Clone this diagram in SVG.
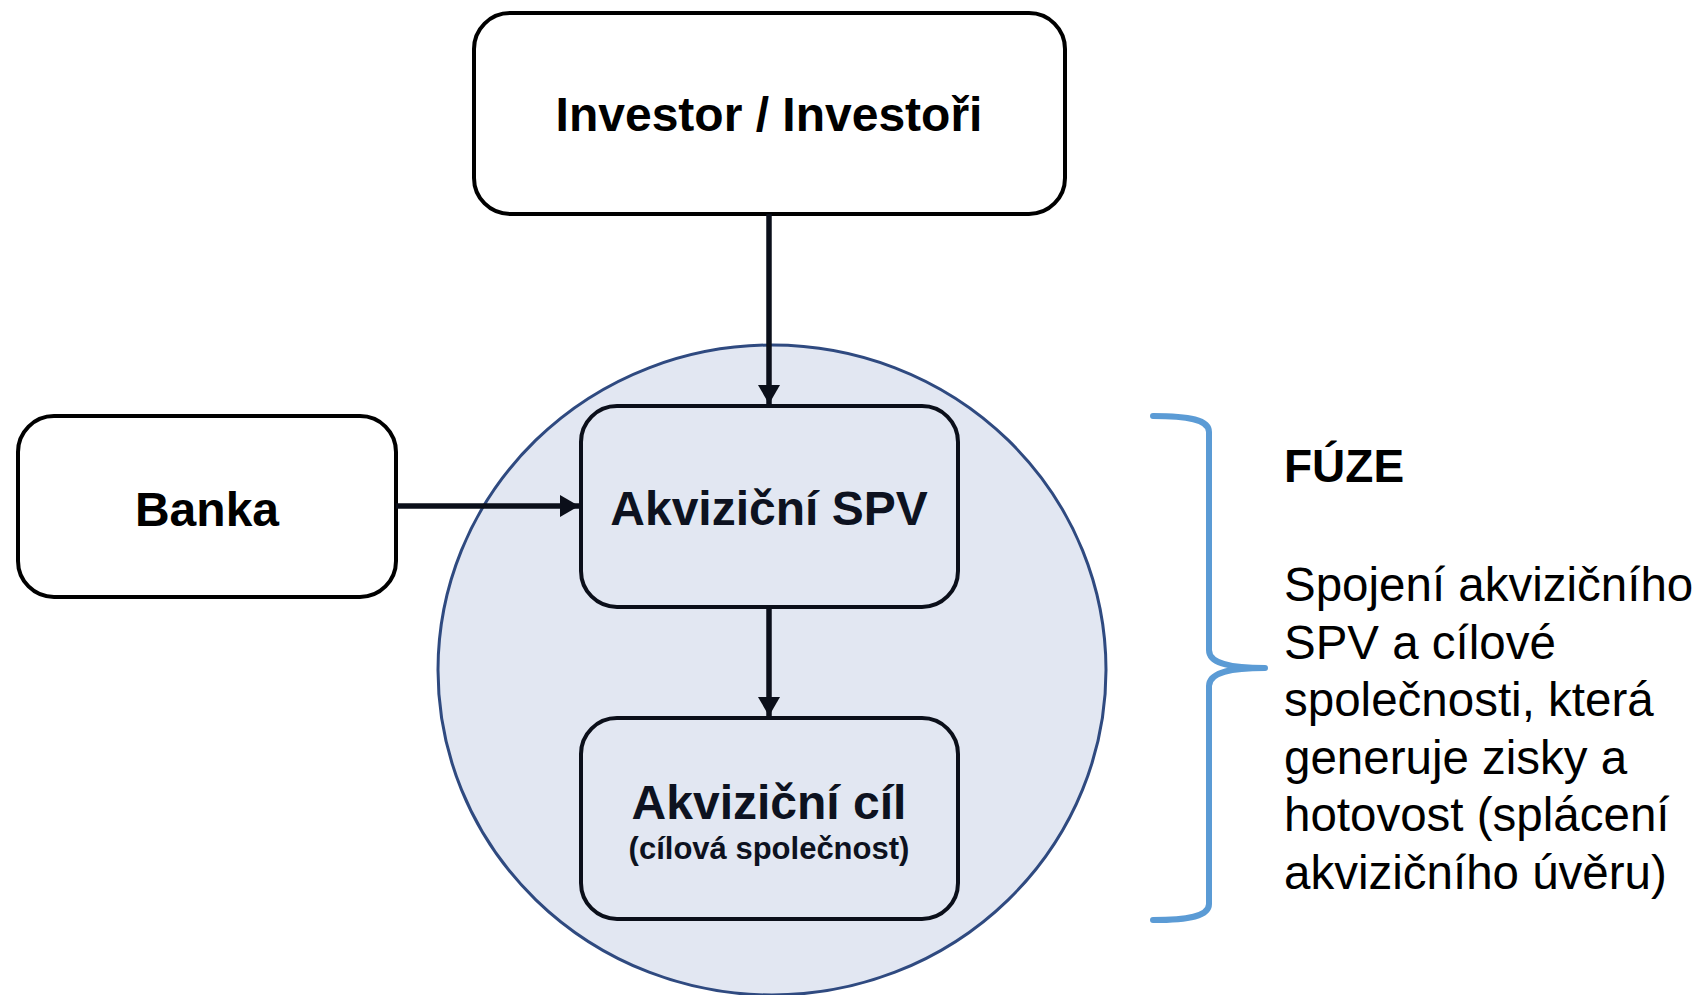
<svg xmlns="http://www.w3.org/2000/svg" width="1702" height="995" viewBox="0 0 1702 995">
<defs>
<style>
.box{fill:#fff;stroke:#000;stroke-width:4}
.ibox{fill:#E2E7F2;stroke:#0B0F1A;stroke-width:4}
.lbl{font-family:"Liberation Sans",Arial,sans-serif;font-weight:bold;text-anchor:middle}
.conn{stroke:#0B0F1A;stroke-width:5.5;fill:none}
.para{font-family:"Liberation Sans",Arial,sans-serif;font-size:47.5px;fill:#000}
</style>
<marker id="ah" markerUnits="userSpaceOnUse" markerWidth="20" markerHeight="22" viewBox="0 0 19 22" refX="19" refY="11" orient="auto">
<path d="M0,0 L19,11 L0,22 Z" fill="#0B0F1A"/>
</marker>
</defs>
<rect width="1702" height="995" fill="#fff"/>
<g id="merger-circle">
<ellipse cx="772" cy="670" rx="334" ry="325" fill="#E2E7F2" stroke="#2F4A80" stroke-width="3"/>
</g>
<g id="investor">
<rect class="box" x="474" y="13" width="591" height="201" rx="36"/>
<text class="lbl" x="769" y="131" font-size="48">Investor / Investoři</text>
</g>
<g id="banka">
<rect class="box" x="18" y="416" width="378" height="181" rx="36"/>
<text class="lbl" x="207" y="526" font-size="48">Banka</text>
</g>
<g id="spv">
<rect class="ibox" x="581" y="406" width="377" height="201" rx="36"/>
<text class="lbl" x="769" y="525" font-size="48" fill="#0D1220">Akviziční SPV</text>
</g>
<g id="target">
<rect class="ibox" x="581" y="718" width="377" height="201" rx="36"/>
<text class="lbl" x="769" y="819" font-size="48" fill="#0D1220">Akviziční cíl</text>
<text class="lbl" x="769" y="859" font-size="31" fill="#0D1220">(cílová společnost)</text>
</g>
<g id="connectors">
<line class="conn" x1="769" y1="214" x2="769" y2="404" marker-end="url(#ah)"/>
<line class="conn" x1="396" y1="506" x2="579" y2="506" marker-end="url(#ah)"/>
<line class="conn" x1="769" y1="607" x2="769" y2="716" marker-end="url(#ah)"/>
</g>
<g id="fuze">
<path d="M1153,416 C1190,416 1209,420 1209,432 L1209,650 C1209,662 1225,668 1265,668 C1225,668 1209,674 1209,686 L1209,904 C1209,916 1190,920 1153,920" fill="none" stroke="#5B9BD5" stroke-width="6" stroke-linecap="round" stroke-linejoin="round"/>
<text x="1284" y="482" font-family="Liberation Sans, Arial, sans-serif" font-weight="bold" font-size="46" fill="#000">FÚZE</text>
<text class="para">
<tspan x="1284" y="601">Spojení akvizičního</tspan>
<tspan x="1284" y="658.5">SPV a cílové</tspan>
<tspan x="1284" y="716">společnosti, která</tspan>
<tspan x="1284" y="773.5">generuje zisky a</tspan>
<tspan x="1284" y="831">hotovost (splácení</tspan>
<tspan x="1284" y="888.5">akvizičního úvěru)</tspan>
</text>
</g>
</svg>
